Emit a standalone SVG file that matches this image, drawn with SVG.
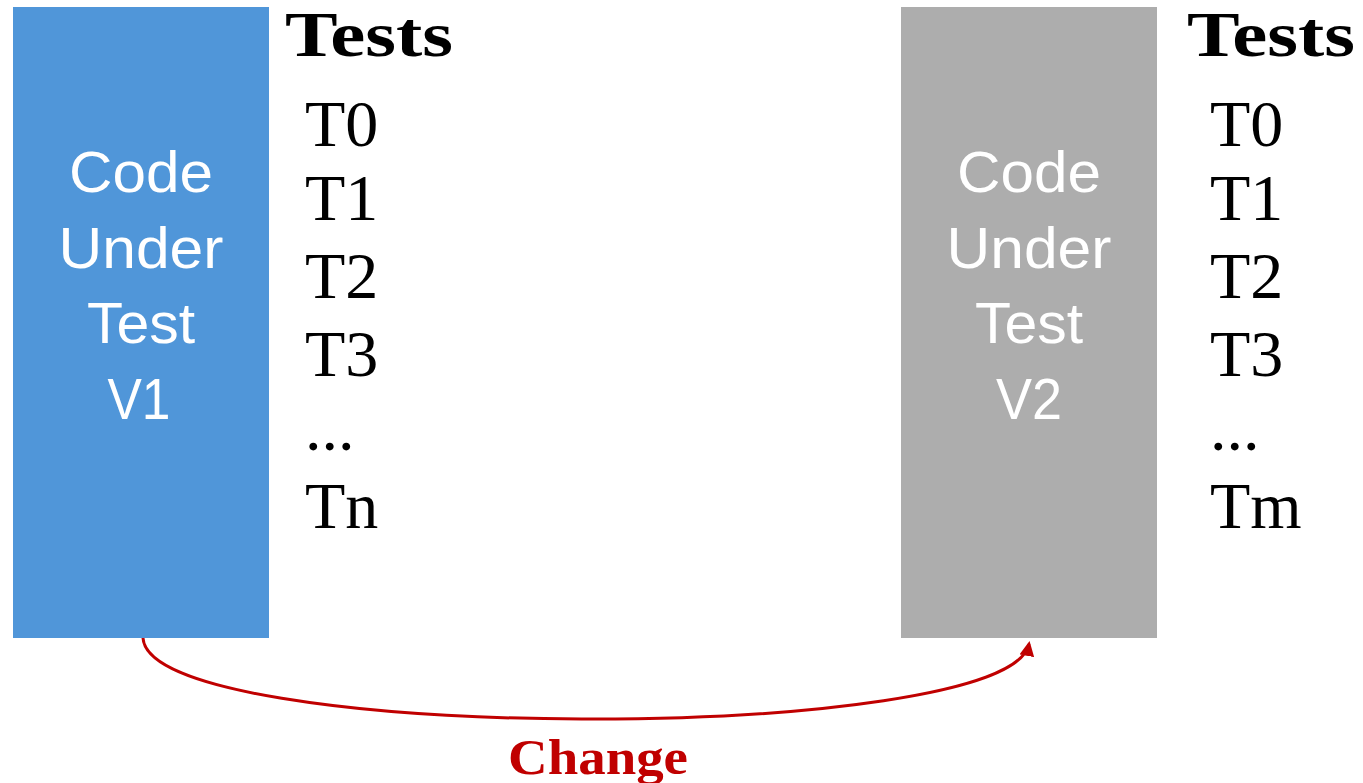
<svg xmlns="http://www.w3.org/2000/svg" width="1363" height="783" viewBox="0 0 1363 783">
  <style>
    .box-label { font-family: "Liberation Sans", Arial, sans-serif; font-size: 58px; fill: #ffffff; text-anchor: middle; }
    .head { font-family: "Liberation Serif", "Times New Roman", serif; font-size: 64px; font-weight: bold; fill: #000000; }
    .item { font-family: "Liberation Serif", "Times New Roman", serif; font-size: 66px; fill: #000000; }
    .change { font-family: "Liberation Serif", "Times New Roman", serif; font-size: 50px; font-weight: bold; fill: #C00000; text-anchor: middle; }
    .connector { fill: none; stroke: #C00000; stroke-width: 3; }
  </style>
  <defs>
    <marker id="arrow" viewBox="0 0 10 10" refX="8" refY="5" markerWidth="5" markerHeight="5" orient="auto" markerUnits="strokeWidth">
      <path d="M0,0 L10,5 L0,10 z" fill="#C00000"/>
    </marker>
  </defs>
  <rect width="1363" height="783" fill="#ffffff"/>

  <g id="code-v1">
    <rect x="13" y="7" width="256" height="631" fill="#5096D9"/>
    <text class="box-label" x="141" y="192" textLength="144" lengthAdjust="spacingAndGlyphs">Code</text>
    <text class="box-label" x="141" y="268" textLength="165" lengthAdjust="spacingAndGlyphs">Under</text>
    <text class="box-label" x="141" y="343" textLength="108" lengthAdjust="spacingAndGlyphs">Test</text>
    <text class="box-label" x="139" y="419" textLength="63" lengthAdjust="spacingAndGlyphs">V1</text>
  </g>

  <g id="tests-v1">
    <text class="head" x="285" y="56" textLength="168" lengthAdjust="spacingAndGlyphs">Tests</text>
    <text class="item" x="305" y="146">T0</text>
    <text class="item" x="305" y="220">T1</text>
    <text class="item" x="305" y="298">T2</text>
    <text class="item" x="305" y="376">T3</text>
    <text class="item" x="305" y="450">...</text>
    <text class="item" x="305" y="528">Tn</text>
  </g>

  <g id="code-v2">
    <rect x="901" y="7" width="256" height="631" fill="#ADADAD"/>
    <text class="box-label" x="1029" y="192" textLength="144" lengthAdjust="spacingAndGlyphs">Code</text>
    <text class="box-label" x="1029" y="268" textLength="165" lengthAdjust="spacingAndGlyphs">Under</text>
    <text class="box-label" x="1029" y="343" textLength="108" lengthAdjust="spacingAndGlyphs">Test</text>
    <text class="box-label" x="1029" y="419" textLength="66" lengthAdjust="spacingAndGlyphs">V2</text>
  </g>

  <g id="tests-v2">
    <text class="head" x="1187" y="56" textLength="168" lengthAdjust="spacingAndGlyphs">Tests</text>
    <text class="item" x="1210" y="146">T0</text>
    <text class="item" x="1210" y="220">T1</text>
    <text class="item" x="1210" y="298">T2</text>
    <text class="item" x="1210" y="376">T3</text>
    <text class="item" x="1210" y="450">...</text>
    <text class="item" x="1210" y="528">Tm</text>
  </g>

  <g id="connectors">
    <path class="connector" d="M143,638 C150,745 1010,745 1029,644" marker-end="url(#arrow)"/>
    <text class="change" x="598" y="774" textLength="180" lengthAdjust="spacingAndGlyphs">Change</text>
  </g>
</svg>
